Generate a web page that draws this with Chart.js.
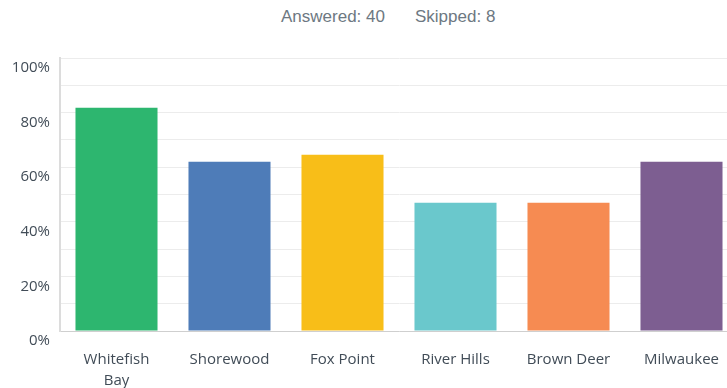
<!DOCTYPE html>
<html>
<head>
<meta charset="utf-8">
<script src="https://cdn.jsdelivr.net/npm/chart.js@4/dist/chart.umd.min.js"></script>
<style>
  html, body { margin: 0; padding: 0; background: #ffffff; overflow: hidden; width: 727px; height: 388px; }
  #wrap { position: absolute; left: 0; top: 0; width: 738px; height: 388px; }
  .stat { position: absolute; top: 7px; font: 17px "Liberation Sans", Arial, sans-serif; line-height: 20px; color: #6d7882; white-space: nowrap; }
</style>
</head>
<body>
<div class="stat" style="left:281px">Answered: 40</div>
<div class="stat" style="left:415px">Skipped: 8</div>
<div id="wrap"><canvas id="c" width="738" height="388"></canvas></div>
<script>
// Share of respondents choosing each community (percent)
const categories = [["Whitefish", "Bay"], "Shorewood", "Fox Point", "River Hills", "Brown Deer", "Milwaukee"];
const percents = [81.8, 62, 64.6, 47, 47, 62];
const barColors = ["#2db66f", "#4e7cb8", "#f8be18", "#6ac8cc", "#f68b52", "#7d5e91"];
const yTickLabels = ["0%", "20%", "40%", "60%", "80%", "100%"];

const textColor = "#414c57";
const tickFont = { family: "'Open Sans', 'DejaVu Sans', sans-serif", size: 15 };

new Chart(document.getElementById("c"), {
  type: "bar",
  data: {
    labels: categories,
    datasets: [{
      data: percents,
      backgroundColor: barColors,
      borderWidth: 0,
      barPercentage: 0.726,
      categoryPercentage: 1
    }]
  },
  options: {
    responsive: false,
    animation: false,
    devicePixelRatio: 1,
    layout: { padding: { top: 58, left: 0, right: 0, bottom: 0 } },
    plugins: { legend: { display: false }, tooltip: { enabled: false } },
    scales: {
      x: {
        grid: { display: false, drawTicks: false },
        border: { color: "#cfcfcf", width: 1 },
        ticks: {
          color: textColor,
          font: { ...tickFont, lineHeight: 1.4 },
          padding: 18,
          maxRotation: 0,
          autoSkip: false
        },
        afterFit: (s) => { s.height = 57; }
      },
      y: {
        min: 0,
        max: 100,
        grid: { color: "#ececec", lineWidth: 1, drawTicks: false },
        border: { color: "#dcdcdc", width: 2 },
        ticks: {
          stepSize: 10,
          color: textColor,
          font: tickFont,
          padding: 10,
          labelOffset: 10,
          callback: (v) => (v % 20 === 0 ? yTickLabels[v / 20] : "")
        },
        afterFit: (s) => { s.width = 60; }
      }
    }
  }
});
</script>
</body>
</html>
